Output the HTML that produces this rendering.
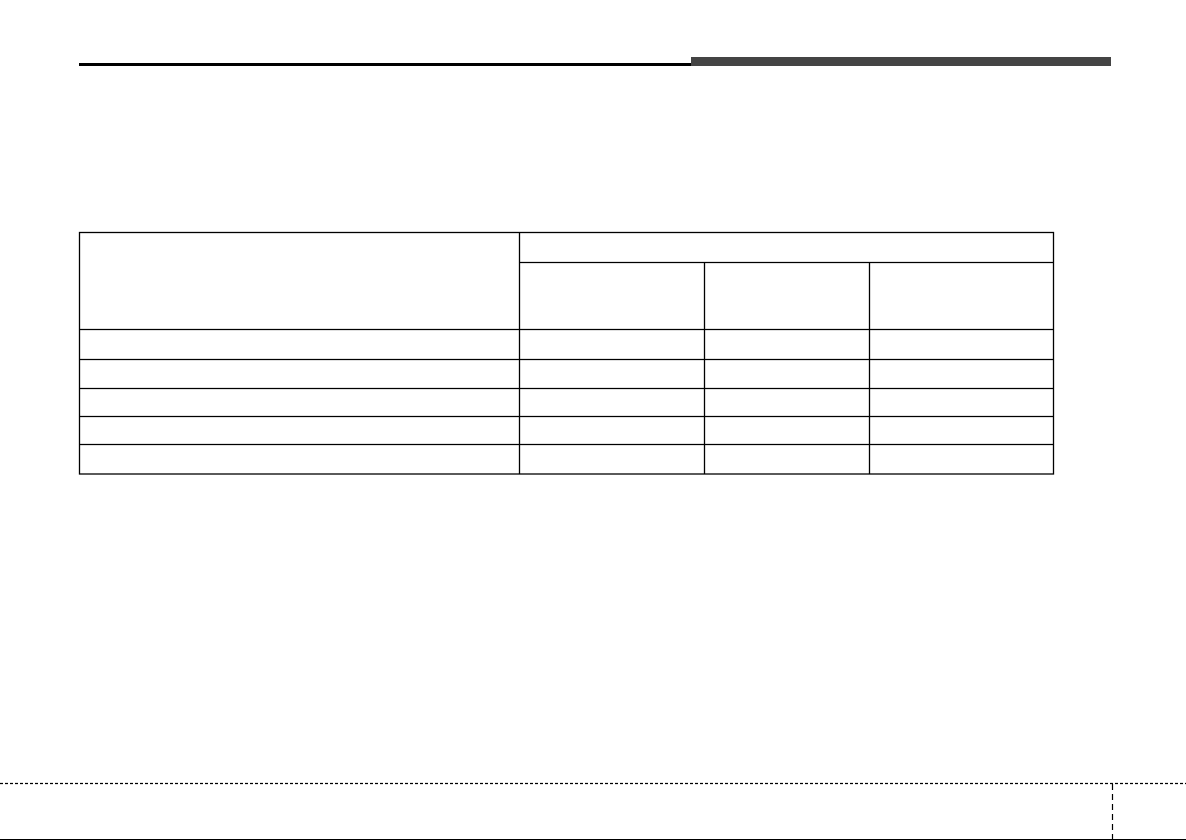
<!DOCTYPE html>
<html><head><style>
body{margin:0;width:1186px;height:840px;background:#fff;position:relative;overflow:hidden}
div{position:absolute}
</style></head><body>
<div style="left:79px;top:63px;width:612px;height:3px;background:#000"></div>
<div style="left:691px;top:57px;width:420px;height:9px;background:#444"></div>
<svg width="1186" height="840" style="position:absolute;left:0;top:0">
<g stroke="#000" stroke-width="1.3" fill="none">
<rect x="79.5" y="232.5" width="974" height="241.5"/>
<line x1="519.5" y1="232" x2="519.5" y2="474"/>
<line x1="704.5" y1="262" x2="704.5" y2="474"/>
<line x1="869.5" y1="262" x2="869.5" y2="474"/>
<line x1="519" y1="262.5" x2="1054" y2="262.5"/>
<line x1="79" y1="329.5" x2="1054" y2="329.5"/>
<line x1="79" y1="359.5" x2="1054" y2="359.5"/>
<line x1="79" y1="388.5" x2="1054" y2="388.5"/>
<line x1="79" y1="416.5" x2="1054" y2="416.5"/>
<line x1="79" y1="444.5" x2="1054" y2="444.5"/>
</g>
<line x1="0" y1="783.5" x2="1186" y2="783.5" stroke="#000" stroke-width="1.2" stroke-dasharray="3,2"/>
<line x1="1112.5" y1="784" x2="1112.5" y2="840" stroke="#000" stroke-width="1.2" stroke-dasharray="6,4"/>
<line x1="0" y1="839.5" x2="1186" y2="839.5" stroke="#000" stroke-width="1"/>
</svg>
</body></html>
